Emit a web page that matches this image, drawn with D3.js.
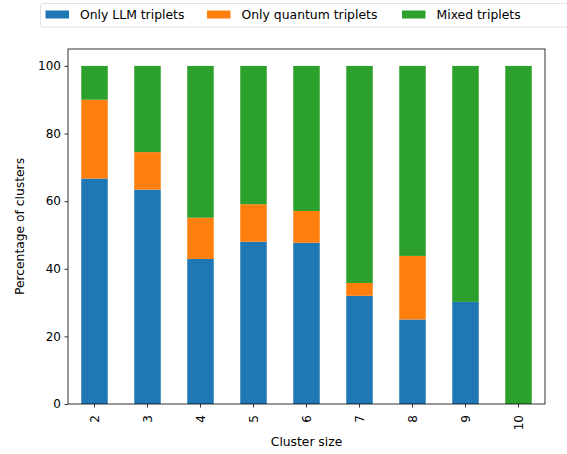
<!DOCTYPE html>
<html><head><meta charset="utf-8">
<script src="https://cdn.jsdelivr.net/npm/d3@7"></script>
<style>body{margin:0;background:#fff;} svg{display:block;} text{font-family:"DejaVu Sans",sans-serif;}</style>
</head><body><svg id="c" width="567" height="454"></svg>
<script>
const categories = ["2","3","4","5","6","7","8","9","10"];
const seriesNames = ["Only LLM triplets","Only quantum triplets","Mixed triplets"];
const colors = ["#1f77b4","#ff7f0e","#2ca02c"];
const onlyLLM     = [66.7, 63.4, 42.9, 48.0, 47.7, 32.0, 25.0, 30.2, 0];
const onlyQuantum = [23.3, 11.1, 12.2, 11.1,  9.4,  3.8, 18.8,  0,   0];
const mixed       = [10.0, 25.5, 44.9, 40.9, 42.9, 64.2, 56.2, 69.8, 100];
const yTicks = [0,20,40,60,80,100];

const svg = d3.select("#c");
const L = 68, R = 545, T = 49, B = 404;
const x = d3.scaleBand().domain(categories).range([L,R]).paddingInner(0.5).paddingOuter(0.25);
const y = d3.scaleLinear().domain([0,105]).range([B,T]);

const rows = categories.map((c,i)=>({cat:c, s0:onlyLLM[i], s1:onlyQuantum[i], s2:mixed[i]}));
const stack = d3.stack().keys(["s0","s1","s2"])(rows);

stack.forEach((layer,k)=>{
  svg.append("g").selectAll("rect").data(layer).join("rect")
    .attr("x", d=>x(d.data.cat))
    .attr("width", x.bandwidth())
    .attr("y", d=>y(d[1]))
    .attr("height", d=>Math.max(0, y(d[0])-y(d[1])))
    .attr("fill", colors[k]);
});

// frame
svg.append("rect").attr("x",L).attr("y",T).attr("width",R-L).attr("height",B-T)
  .attr("fill","none").attr("stroke","#000").attr("stroke-width",0.8);

const fs = "12px";
const yAxis = svg.append("g").attr("transform",`translate(${L},0)`)
  .call(d3.axisLeft(y).tickValues(yTicks).tickSize(3.5).tickPadding(3.5));
yAxis.select(".domain").remove();
yAxis.selectAll("text").style("font-size",fs).attr("fill","#000").style("font-family","DejaVu Sans");
yAxis.selectAll("line").attr("stroke","#000").attr("stroke-width",0.8);

const xAxis = svg.append("g").attr("transform",`translate(0,${B})`)
  .call(d3.axisBottom(x).tickSize(3.5).tickPadding(3.5));
xAxis.select(".domain").remove();
xAxis.selectAll("line").attr("stroke","#000").attr("stroke-width",0.8);
xAxis.selectAll("text").style("font-size",fs).attr("fill","#000").style("font-family","DejaVu Sans")
  .attr("transform","rotate(-90)").attr("text-anchor","end").attr("x",-11).attr("y",0).attr("dy","0.35em");

svg.append("text").attr("x",(L+R)/2).attr("y",446).attr("text-anchor","middle")
  .style("font-size","12.3px").text("Cluster size");
svg.append("text").attr("transform",`translate(24,${(T+B)/2}) rotate(-90)`).attr("text-anchor","middle")
  .style("font-size","12.3px").text("Percentage of clusters");

// legend
const lg = svg.append("g");
lg.append("rect").attr("x",40.5).attr("y",3.5).attr("width",540).attr("height",23.5).attr("rx",2.5)
  .attr("fill","#fff").attr("stroke","#d9d9d9").attr("stroke-width",0.8);
const lx = [45.5, 207, 402];
seriesNames.forEach((n,i)=>{
  lg.append("rect").attr("x",lx[i]).attr("y",10.5).attr("width",23.5).attr("height",8).attr("fill",colors[i]);
  lg.append("text").attr("x",lx[i]+34.5).attr("y",15).attr("dy","0.35em").style("font-size","12.4px").text(n);
});
</script></body></html>
